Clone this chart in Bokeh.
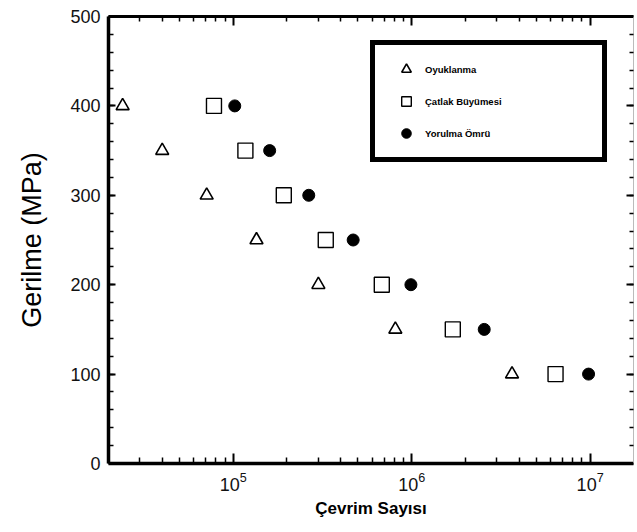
from bokeh.plotting import figure
from bokeh.models import (FixedTicker, LinearAxis, LogAxis, Legend, LegendItem,
                          CustomJSTickFormatter, Range1d)
from bokeh.embed import file_html
from bokeh.resources import INLINE

# ---- data ----
stress = [400, 350, 300, 250, 200, 150, 100]
cycles_oyuklanma = [2.4e4, 4.0e4, 7.1e4, 1.35e5, 3.0e5, 8.1e5, 3.65e6]
cycles_catlak = [7.8e4, 1.17e5, 1.92e5, 3.3e5, 6.8e5, 1.7e6, 6.4e6]
cycles_yorulma = [1.02e5, 1.6e5, 2.65e5, 4.7e5, 9.9e5, 2.55e6, 9.8e6]

series_names = ["Oyuklanma", "Çatlak Büyümesi", "Yorulma Ömrü"]

x_major = [1e5, 1e6, 1e7]
x_minor = [k * d for d in [1e4, 1e5, 1e6, 1e7] for k in range(2, 10)]
y_major = [0, 100, 200, 300, 400, 500]
y_minor = list(range(20, 500, 20))

x_title = "Çevrim Sayısı"
y_title = "Gerilme (MPa)"

FONT = "Liberation Sans"
TICK = "black"

p = figure(width=637, height=532, x_axis_type="log",
           x_range=Range1d(2.0e4, 1.75e7), y_range=Range1d(0, 500),
           output_backend="svg", toolbar_location=None,
           x_axis_location=None, y_axis_location=None)
p.min_border_left = 108
p.min_border_right = 4
p.min_border_top = 16
p.min_border_bottom = 69
p.outline_line_color = None
p.xgrid.visible = False
p.ygrid.visible = False

blank = CustomJSTickFormatter(code="return ''")


def style_ticks(ax, major, minor):
    ax.axis_line_color = "black"
    ax.major_tick_line_color = TICK
    ax.minor_tick_line_color = TICK
    ax.major_tick_in = major
    ax.major_tick_out = 0
    ax.minor_tick_in = minor
    ax.minor_tick_out = 0
    ax.major_tick_line_width = 2
    ax.minor_tick_line_width = 1.5


# left axis
la = LinearAxis(ticker=FixedTicker(ticks=y_major, minor_ticks=y_minor))
style_ticks(la, 7, 5)
la.axis_line_width = 3.5
la.major_label_text_font = FONT
la.major_label_text_font_size = "18px"
la.major_label_text_color = "#111111"
la.major_label_standoff = 8
la.axis_label = y_title
la.axis_label_text_font = FONT
la.axis_label_text_font_style = "normal"
la.axis_label_text_font_size = "27px"
la.axis_label_text_color = "black"
la.axis_label_standoff = 20
p.add_layout(la, "left")

# bottom axis
ba = LogAxis(ticker=FixedTicker(ticks=x_major, minor_ticks=x_minor))
style_ticks(ba, 10, 6)
ba.axis_line_width = 3.5
ba.major_label_text_font = FONT
ba.major_label_text_font_size = "18px"
ba.major_label_text_color = "#111111"
ba.major_label_standoff = 8
ba.axis_label = x_title
ba.axis_label_text_font = FONT
ba.axis_label_text_font_style = "bold"
ba.axis_label_text_font_size = "17px"
ba.axis_label_text_color = "black"
ba.axis_label_standoff = 5
p.add_layout(ba, "below")

# right axis (ticks only)
ra = LinearAxis(ticker=FixedTicker(ticks=y_major, minor_ticks=y_minor), formatter=blank)
style_ticks(ra, 7, 4)
ra.axis_line_color = "#bbbbbb"
ra.axis_line_width = 1
ra.major_label_standoff = 0
p.add_layout(ra, "right")

# top axis (ticks only)
ta = LogAxis(ticker=FixedTicker(ticks=x_major, minor_ticks=x_minor), formatter=blank)
style_ticks(ta, 9, 5)
ta.axis_line_width = 3
ta.major_label_standoff = 0
p.add_layout(ta, "above")

r1 = p.scatter(cycles_oyuklanma, stress, marker="triangle", size=13,
               fill_color="white", line_color="black", line_width=1.6)
r2 = p.scatter(cycles_catlak, stress, marker="square", size=15,
               fill_color="white", line_color="black", line_width=1.4)
r3 = p.scatter(cycles_yorulma, stress, marker="circle", size=12,
               fill_color="black", line_color="black")

legend = Legend(items=[LegendItem(label=series_names[0], renderers=[r1]),
                       LegendItem(label=series_names[1], renderers=[r2]),
                       LegendItem(label=series_names[2], renderers=[r3])],
                location=(262, 301))
legend.border_line_color = "black"
legend.border_line_alpha = 1.0
legend.border_line_width = 5
legend.background_fill_color = "white"
legend.background_fill_alpha = 1.0
legend.padding = 12
legend.spacing = 8
legend.glyph_width = 38
legend.glyph_height = 24
legend.label_height = 24
legend.label_width = 165
legend.label_standoff = 0
legend.margin = 0
legend.label_text_font = FONT
legend.label_text_font_style = "bold"
legend.label_text_font_size = "9.5px"
legend.label_text_color = "black"
p.add_layout(legend, "center")

open("out.html", "w").write(file_html(p, INLINE))
